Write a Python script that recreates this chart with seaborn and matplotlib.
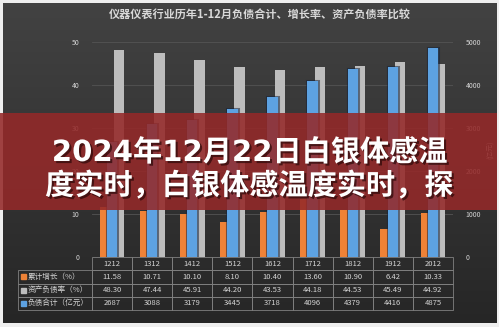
import numpy as np
import pandas as pd
import matplotlib
matplotlib.use("Agg")
import matplotlib.pyplot as plt
import matplotlib.patheffects as pe
from matplotlib.patches import Rectangle
import seaborn as sns

# ---- data -------------------------------------------------------------
periods = ["1212", "1312", "1412", "1512", "1612", "1712", "1812", "1912", "2012"]
growth = [11.58, 10.71, 10.10, 8.10, 10.40, 13.60, 10.90, 6.42, 10.33]
debt_ratio = [48.30, 47.44, 45.91, 44.20, 43.53, 44.18, 44.53, 45.49, 44.92]
debt_total = [2687, 3088, 3179, 3445, 3718, 4096, 4379, 4416, 4875]
series_names = ["累计增长（%）", "资产负债率（%）", "负债合计（亿元）"]
left_ticks = [0, 10, 20, 30, 40, 50]
right_ticks = [0, 1000, 2000, 3000, 4000, 5000]
title = "仪器仪表行业历年1-12月负债合计、增长率、资产负债率比较"
right_label = "(亿元)"
headline = ["2024年12月22日白银体感温", "度实时，白银体感温度实时，探"]

ORANGE = "#EE8237"
GRAY = "#BDBDBD"
BLUE = "#5DA2E2"
TXT = "#d4d4d4"

plt.rcParams["font.family"] = ["Noto Sans CJK SC", "DejaVu Sans"]

W, H = 499, 327
fig = plt.figure(figsize=(W / 100, H / 100), dpi=100, facecolor="#efefef")

# ---- dark gradient panel ---------------------------------------------
bg = fig.add_axes([0, 0, 1, 1], zorder=-10)
bg.set_xlim(0, W)
bg.set_ylim(H, 0)
bg.axis("off")
shade = np.linspace(0.26, 0.15, 256)
grad = np.dstack([shade, shade, shade]).reshape(256, 1, 3)
bg.imshow(grad, extent=[3, 497, 323, 3], aspect="auto", interpolation="bilinear")

# ---- main axes --------------------------------------------------------
x0, x1, ytop, ybot = 92, 453, 42.3, 257
ax = fig.add_axes([x0 / W, 1 - ybot / H, (x1 - x0) / W, (ybot - ytop) / H])
ax.patch.set_alpha(0)

prim = pd.DataFrame({
    "period": periods * 2,
    "value": growth + debt_ratio,
    "series": [series_names[0]] * len(periods) + [series_names[1]] * len(periods),
})
sns.barplot(data=prim, x="period", y="value", hue="series", order=periods,
            hue_order=series_names[:2], palette=[ORANGE, GRAY], width=0.72,
            gap=0.28, saturation=1, errorbar=None, legend=False, ax=ax, zorder=2)

ax2 = ax.twinx()
sec = pd.DataFrame({"period": periods, "value": debt_total})
sns.barplot(data=sec, x="period", y="value", order=periods, color=BLUE,
            width=0.26, saturation=1, errorbar=None, ax=ax2, zorder=2)
for p in ax2.patches:
    p.set_path_effects([pe.Stroke(linewidth=2.2, foreground="#15233a", alpha=0.55),
                        pe.Normal()])

ax.set_xlim(-0.5, len(periods) - 0.5)
ax.set_ylim(0, 50)
ax2.set_ylim(0, 5000)
ax.set_yticks(left_ticks)
ax2.set_yticks(right_ticks)
ax.set_xticks([])
ax.set_xlabel("")
ax.set_ylabel("")
ax2.set_ylabel(right_label, color=TXT, fontsize=5, labelpad=4, rotation=90)
ax.yaxis.grid(True, color="#545454", linewidth=0.6, zorder=0)
ax.set_axisbelow(True)
for a in (ax, ax2):
    for s in a.spines.values():
        s.set_visible(False)
ax.tick_params(axis="y", length=0, pad=9, labelsize=5, labelcolor=TXT)
ax2.tick_params(axis="y", length=0, pad=9, labelsize=5, labelcolor=TXT)

# ---- data table under the axis ----------------------------------------
cell_text = [[f"{v:.2f}" for v in growth],
             [f"{v:.2f}" for v in debt_ratio],
             [f"{v:d}" for v in debt_total]]
row_h = 53 / (ybot - ytop)
lab_frac = (x0 - 18) / (x1 - x0)          # label column width relative to plot width
ncol = len(periods)
# the bbox covers the value grid; the row-label column hangs off to the left
tab = ax.table(cellText=cell_text, rowLabels=series_names, colLabels=periods,
               cellLoc="center", rowLoc="left",
               bbox=[0, -row_h, 1, row_h])
tab._autoColumns = []
tab.auto_set_font_size(False)
tab.set_fontsize(5.5)
for (r, c), cell in tab.get_celld().items():
    cell.set_facecolor("none")
    cell.set_edgecolor("#808080")
    cell.set_linewidth(0.6)
    cell.get_text().set_color(TXT)
    if c == -1:
        cell.set_width(lab_frac)
        cell.PAD = 0.13
    else:
        cell.set_width(1 / ncol)
for i, col in enumerate([ORANGE, GRAY, BLUE]):
    yc = -row_h / 4 * (i + 1.5)
    ax.add_patch(Rectangle((-lab_frac + 3 / (x1 - x0), yc - 2.4 / (ybot - ytop)),
                           4.8 / (x1 - x0), 4.8 / (ybot - ytop),
                           transform=ax.transAxes, color=col, clip_on=False, zorder=5))

fig.text(260 / W, 1 - 15 / H, title, ha="center", va="center", fontsize=8,
         color="#d9d9d9", fontweight="bold")

# ---- headline banner --------------------------------------------------
ov = fig.add_axes([0, 0, 1, 1], zorder=10)
ov.set_xlim(0, W)
ov.set_ylim(H, 0)
ov.axis("off")
ov.add_patch(Rectangle((0, 113), 497, 97, facecolor=(0.58, 0.16, 0.16),
                       edgecolor="none", alpha=0.88))
shadow = [pe.withSimplePatchShadow(offset=(1.5, -1.5), shadow_rgbFace="#2a0808", alpha=0.7)]
for line, yc in zip(headline, [153, 186]):
    ov.text(249, yc, line, ha="center", va="center", fontsize=21,
            fontweight="bold", color="white",
            family=["DejaVu Sans", "Noto Sans CJK SC"], path_effects=shadow)

fig.savefig("out.png", dpi=100, facecolor=fig.get_facecolor())
